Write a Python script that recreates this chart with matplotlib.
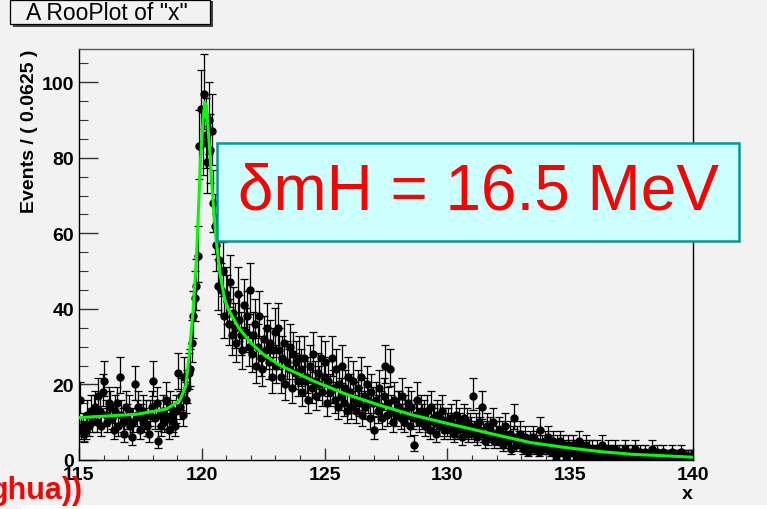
import numpy as np
import matplotlib
matplotlib.use("Agg")
import matplotlib.pyplot as plt
from matplotlib.patches import Rectangle
from matplotlib.ticker import MultipleLocator

plt.rcParams['font.family'] = ['Liberation Sans', 'DejaVu Sans']

# binned data: 400 bins of 0.0625 from 115 to 140 (16 bins per row = 1 unit of x)
x_lo = 115.0
bin_w = 0.0625
counts = (
    [16, 8, 9, 7, 8, 12, 9, 13, 10, 13, 14, 10, 17, 13, 9, 18] +      # 115
    [21, 12, 10, 15, 14, 11, 8, 13, 15, 9, 22, 12, 10, 7, 14, 11] +   # 116
    [13, 9, 6, 10, 20, 12, 14, 8, 11, 13, 10, 12, 9, 7, 12, 14] +     # 117
    [21, 11, 15, 5, 12, 9, 13, 10, 16, 11, 8, 14, 12, 10, 9, 13] +    # 118
    [23, 14, 17, 12, 22, 16, 19, 23, 24, 31, 38, 43, 46, 54, 83, 93] +  # 119
    [84, 97, 86, 79, 90, 82, 87, 68, 62, 57, 46, 53, 45, 50, 38, 44] +  # 120
    [42, 36, 47, 33, 39, 35, 31, 44, 37, 33, 29, 41, 34, 38, 30, 45] +  # 121
    [28, 33, 36, 25, 30, 38, 27, 24, 32, 29, 35, 26, 31, 22, 29, 34] +  # 122
    [25, 35, 29, 22, 27, 31, 20, 26, 24, 30, 19, 28, 23, 26, 21, 27] +  # 123
    [24, 18, 27, 21, 22, 16, 25, 19, 28, 21, 17, 23, 20, 27, 18, 22] +  # 124
    [26, 15, 21, 18, 27, 19, 16, 24, 14, 20, 17, 25, 15, 19, 13, 22] +  # 125
    [18, 14, 21, 16, 13, 19, 15, 22, 12, 17, 14, 20, 16, 11, 18, 15] +  # 126
    [8, 16, 13, 19, 14, 11, 17, 25, 12, 15, 24, 13, 10, 16, 12, 14] +   # 127
    [14, 11, 17, 10, 13, 12, 15, 9, 14, 11, 4, 12, 16, 10, 13, 11] +    # 128
    [12, 9, 13, 10, 8, 14, 11, 10, 7, 12, 9, 11, 13, 8, 10, 9] +        # 129
    [10, 8, 11, 9, 7, 12, 8, 10, 9, 6, 11, 8, 10, 7, 9, 8] +            # 130
    [17, 7, 9, 6, 10, 8, 14, 7, 5, 9, 6, 8, 7, 10, 5, 7] +              # 131
    [6, 8, 5, 7, 4, 9, 6, 5, 7, 3, 6, 11, 4, 6, 5, 7] +                 # 132
    [5, 3, 6, 4, 2, 5, 4, 6, 3, 5, 4, 2, 8, 4, 3, 5] +                  # 133
    [3, 6, 4, 2, 5, 3, 1, 4, 3, 5, 2, 4, 3, 1, 4, 3] +                  # 134
    [2, 4, 3, 1, 3, 5, 2, 0, 3, 2, 4, 1, 3, 2, 3, 1] +                  # 135
    [2, 3, 1, 2, 4, 1, 2, 0, 3, 1, 2, 2, 1, 3, 0, 2] +                  # 136
    [1, 2, 0, 3, 1, 2, 1, 0, 2, 1, 3, 1, 0, 2, 1, 1] +                  # 137
    [2, 1, 0, 1, 1, 3, 0, 1, 2, 0, 1, 1, 2, 0, 1, 1] +                  # 138
    [1, 0, 2, 1, 0, 1, 1, 0, 2, 1, 0, 1, 1, 0, 1, 1]                    # 139
)

# fitted curve
fit_x = [115.0, 116.0, 117.35, 118.56, 119.1, 119.35, 119.51, 119.65, 119.78,
         119.95, 120.05, 120.12, 120.19, 120.3, 120.43, 120.57, 120.73, 120.93,
         121.07, 121.5, 122.0, 122.5, 123.17, 124.52, 125.88, 127.24, 128.59,
         129.95, 131.3, 132.3, 133.4, 134.82, 136.18, 137.53, 138.89, 139.97]
fit_y = [11.2, 11.6, 12.1, 13.5, 15.7, 19.6, 29.4, 40.0, 53.0,
         79.7, 90.0, 94.7, 93.8, 84.0, 70.9, 59.4, 49.7, 42.6,
         40.0, 35.0, 31.0, 28.0, 25.1, 21.0, 17.4, 14.5, 11.9,
         9.75, 7.7, 6.2, 4.6, 3.3, 2.25, 1.5, 1.1, 0.74]

n = np.array(counts, dtype=float)
centers = x_lo + bin_w * (np.arange(len(n)) + 0.5)
err_up = np.sqrt(n + 0.25) + 0.5
err_dn = np.sqrt(n + 0.25) - 0.5

W, H = 767, 510
bg = '#f2f2f2'
fig = plt.figure(figsize=(W / 100, H / 100), dpi=100, facecolor=bg)
ax = fig.add_axes([79 / W, 1 - 461 / H, (693 - 79) / W, (461 - 50) / H])
ax.set_facecolor(bg)

ax.errorbar(centers, n, yerr=[err_dn, err_up], fmt='o', color='black', ms=5,
            elinewidth=0.9, capsize=2.6, capthick=0.9, zorder=2)
ax.plot(fit_x, fit_y, color='#00ff00', lw=2.2, zorder=3)

ax.set_xlim(115, 140)
ax.set_ylim(0, 108.8)
ax.xaxis.set_major_locator(MultipleLocator(5))
ax.xaxis.set_minor_locator(MultipleLocator(1))
ax.yaxis.set_major_locator(MultipleLocator(20))
ax.yaxis.set_minor_locator(MultipleLocator(5))
ax.tick_params(axis='both', which='both', direction='in', colors='#333333',
               labelcolor='black')
ax.tick_params(axis='y', which='major', length=13.7, width=1.0, pad=3.5)
ax.tick_params(axis='y', which='minor', length=6.5, width=0.8)
ax.tick_params(axis='x', which='major', length=8.6, width=1.0, pad=4)
ax.tick_params(axis='x', which='minor', length=3.6, width=0.8)
for lab in ax.get_xticklabels() + ax.get_yticklabels():
    lab.set_fontsize(14)
    lab.set_fontweight('bold')
for s in ax.spines.values():
    s.set_linewidth(1.0)
    s.set_color('black')
ax.spines['top'].set_color('#555555')

# axis titles (ROOT style, aligned to axis ends)
fig.text(29 / W, 1 - 50 / H, 'Events / ( 0.0625 )', rotation=90, ha='center',
         va='top', fontsize=14, fontweight='bold')
fig.text(693 / W, 1 - 495 / H, 'x', ha='right', va='center', fontsize=14,
         fontweight='bold')

# title box with shadow
fig.add_artist(Rectangle((12.5 / W, 1 - 28 / H), 200 / W, 26 / H,
                         transform=fig.transFigure, facecolor='#444444',
                         edgecolor='none', zorder=4))
fig.add_artist(Rectangle((9.5 / W, 1 - 25 / H), 200 / W, 24 / H,
                         transform=fig.transFigure, facecolor=bg,
                         edgecolor='black', lw=0.9, zorder=5))
fig.text(107 / W, 1 - 14 / H, 'A RooPlot of "x"', ha='center', va='center',
         fontsize=16.5, zorder=6)

# annotation box
fig.add_artist(Rectangle((216.7 / W, 1 - 241.7 / H), (739 - 216.7) / W,
                         (241.7 - 144) / H, transform=fig.transFigure,
                         facecolor='#ccffff', edgecolor='#009999', lw=1.8,
                         zorder=5))
fig.text(238 / W, 1 - 193 / H, 'δmH = 16.5 MeV', ha='left', va='center',
         fontsize=46, color='red', zorder=6)

# cut-off red text at bottom left
fig.text(83 / W, 1 - 491 / H, 'ghua))', ha='right', va='center', fontsize=22,
         fontweight='bold', color='red')
fig.add_artist(Rectangle((18 / W, 0), 1, 4 / H, transform=fig.transFigure,
                         facecolor='white', edgecolor='none', zorder=1))

fig.savefig('out.png', dpi=100, facecolor=bg)
